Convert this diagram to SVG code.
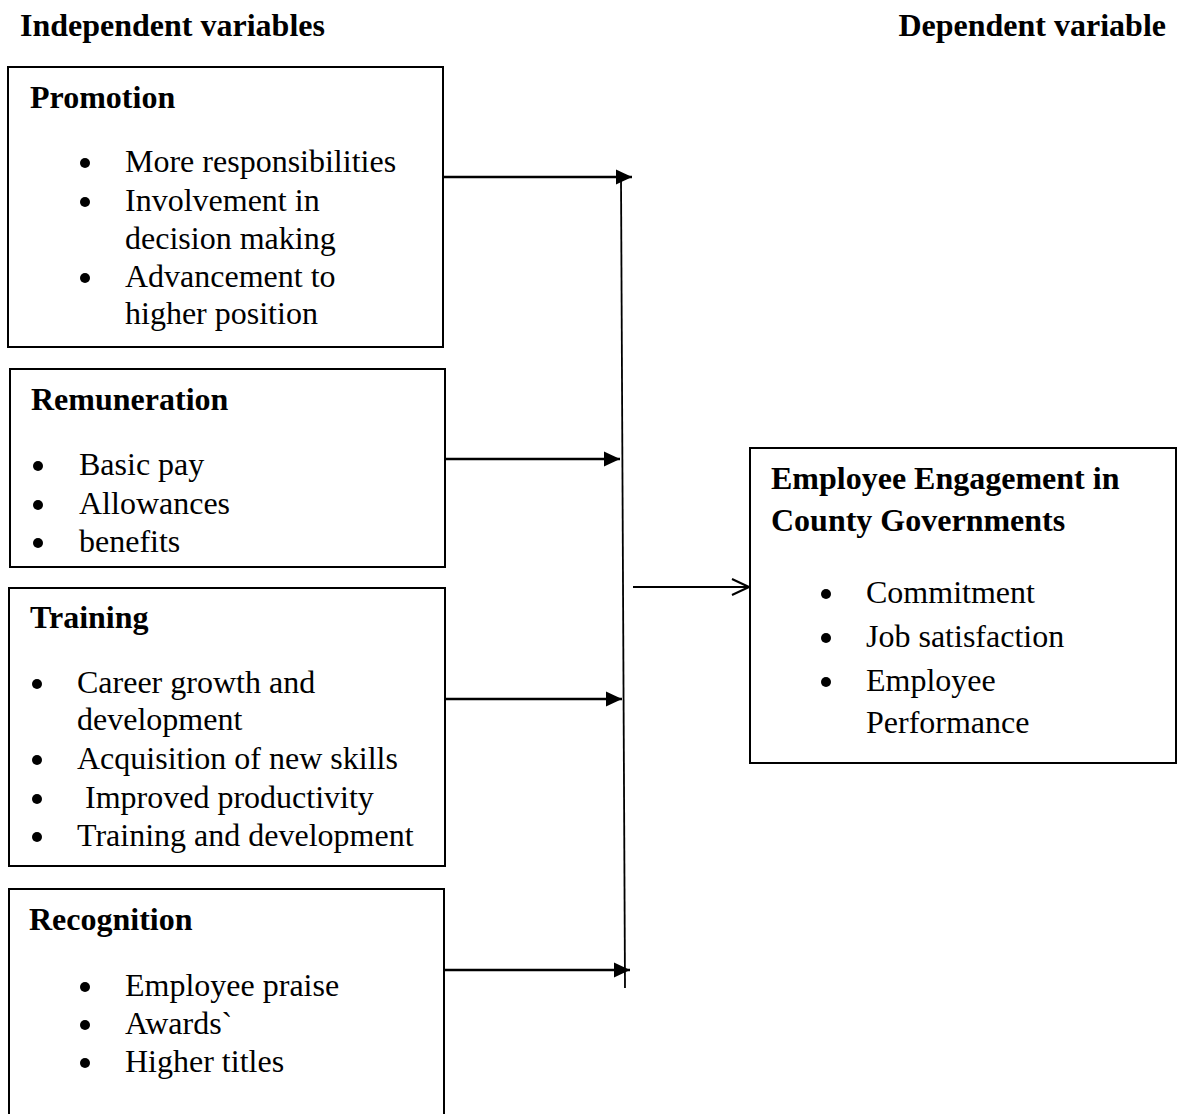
<svg xmlns="http://www.w3.org/2000/svg" width="1180" height="1114" viewBox="0 0 1180 1114">
<style>
text{font-family:"Liberation Serif","Times New Roman",serif;font-size:32px;fill:#000}
.b{font-weight:bold}
.box{fill:none;stroke:#000;stroke-width:2}
.ln{stroke:#000;stroke-width:2.4;fill:none}
.dot{fill:#000}
</style>
<defs>
<marker id="tri" markerUnits="userSpaceOnUse" markerWidth="18" markerHeight="18" refX="16" refY="9" orient="auto">
<path d="M0,1.5 L16,9 L0,16.5 Z" fill="#000"/>
</marker>
<marker id="open" markerUnits="userSpaceOnUse" markerWidth="20" markerHeight="20" refX="18" refY="10" orient="auto">
<path d="M1,2 L18,10 L1,18" fill="none" stroke="#000" stroke-width="2"/>
</marker>
</defs>
<rect width="1180" height="1114" fill="#fff"/>
<g id="headers">
<text class="b" x="20" y="36">Independent variables</text>
<text class="b" x="1166" y="36" text-anchor="end">Dependent variable</text>
</g>
<g id="promotion">
<rect class="box" x="8" y="67" width="435" height="280"/>
<text class="b" x="30" y="108">Promotion</text>
<circle class="dot" cx="85" cy="163" r="5"/><text x="125" y="172">More responsibilities</text>
<circle class="dot" cx="85" cy="202" r="5"/><text x="125" y="211">Involvement in</text>
<text x="125" y="249">decision making</text>
<circle class="dot" cx="85" cy="278" r="5"/><text x="125" y="287">Advancement to</text>
<text x="125" y="324">higher position</text>
</g>
<g id="remuneration">
<rect class="box" x="10" y="369" width="435" height="198"/>
<text class="b" x="31" y="410">Remuneration</text>
<circle class="dot" cx="38" cy="466" r="5"/><text x="79" y="475">Basic pay</text>
<circle class="dot" cx="38" cy="505" r="5"/><text x="79" y="514">Allowances</text>
<circle class="dot" cx="38" cy="543" r="5"/><text x="79" y="552">benefits</text>
</g>
<g id="training">
<rect class="box" x="9" y="588" width="436" height="278"/>
<text class="b" x="30" y="628">Training</text>
<circle class="dot" cx="37" cy="684" r="5"/><text x="77" y="693">Career growth and</text>
<text x="77" y="730">development</text>
<circle class="dot" cx="37" cy="760" r="5"/><text x="77" y="769">Acquisition of new skills</text>
<circle class="dot" cx="37" cy="799" r="5"/><text x="77" y="808" xml:space="preserve"> Improved productivity</text>
<circle class="dot" cx="37" cy="837" r="5"/><text x="77" y="846">Training and development</text>
</g>
<g id="recognition">
<rect class="box" x="9" y="889" width="435" height="240"/>
<text class="b" x="29" y="930">Recognition</text>
<circle class="dot" cx="85" cy="987" r="5"/><text x="125" y="996">Employee praise</text>
<circle class="dot" cx="85" cy="1025" r="5"/><text x="125" y="1034">Awards`</text>
<circle class="dot" cx="85" cy="1063" r="5"/><text x="125" y="1072">Higher titles</text>
</g>
<g id="engagement">
<rect class="box" x="750" y="448" width="426" height="315"/>
<text class="b" x="771" y="489">Employee Engagement in</text>
<text class="b" x="771" y="531">County Governments</text>
<circle class="dot" cx="826" cy="594" r="5"/><text x="866" y="603">Commitment</text>
<circle class="dot" cx="826" cy="638" r="5"/><text x="866" y="647">Job satisfaction</text>
<circle class="dot" cx="826" cy="682" r="5"/><text x="866" y="691">Employee</text>
<text x="866" y="733">Performance</text>
</g>
<g id="connectors">
<line x1="621" y1="177" x2="625" y2="988" stroke="#000" stroke-width="1.8"/>
<line class="ln" x1="443" y1="177" x2="632" y2="177" marker-end="url(#tri)"/>
<line class="ln" x1="445" y1="459" x2="620" y2="459" marker-end="url(#tri)"/>
<line class="ln" x1="445" y1="699" x2="622" y2="699" marker-end="url(#tri)"/>
<line class="ln" x1="443" y1="970" x2="630" y2="970" marker-end="url(#tri)"/>
<line x1="633" y1="587" x2="749" y2="587" stroke="#000" stroke-width="2" marker-end="url(#open)"/>
</g>
</svg>
